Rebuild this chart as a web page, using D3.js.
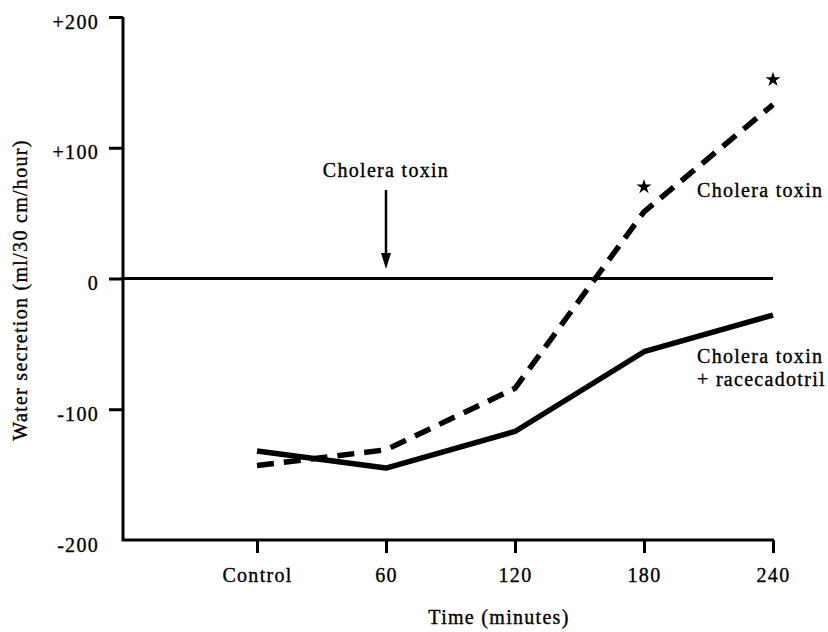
<!DOCTYPE html>
<html>
<head>
<meta charset="utf-8">
<script src="https://cdn.jsdelivr.net/npm/d3@7"></script>
<style>
  body { margin: 0; background: #fff; }
</style>
</head>
<body>
<div id="chart"></div>
<script>
// Data
var times = ["Control", "60", "120", "180", "240"];
var choleraToxin = [-143, -131, -84, 51, 133];
var withRacecadotril = [-132, -145, -117, -56, -28];
var significant = ["180", "240"];   // starred points on the cholera toxin curve
var yTicks = [200, 100, 0, -100, -200];

var svgWidth = 828;
var svgHeight = 632;

var svg = d3.select("#chart")
  .append("svg")
  .attr("width", svgWidth)
  .attr("height", svgHeight);

// Scales
var xScale = d3.scalePoint()
  .domain(times)
  .range([257, 773]);

var yScale = d3.scaleLinear()
  .domain([-200, 200])
  .range([540, 17]);

var axisLeftX = 123;
var axisRightX = 774;

// shared text look
function serif(sel) {
  sel.style("font-family", "'Liberation Serif', 'Times New Roman', serif")
    .style("font-size", "20px")
    .style("letter-spacing", "1.3px")
    .style("fill", "#000")
    .style("stroke", "#000")
    .style("stroke-width", "0.35px");
}

// Y axis
var leftAxis = d3.axisLeft(yScale)
  .tickValues(yTicks)
  .tickSize(14)
  .tickSizeOuter(0)
  .tickFormat(d => d > 0 ? "+" + d : String(d));

var yAxisG = svg.append("g")
  .attr("transform", `translate(${axisLeftX}, 0)`)
  .call(leftAxis);
yAxisG.select(".domain").remove();
yAxisG.selectAll(".tick line")
  .attr("stroke", "#000")
  .attr("stroke-width", 3)
  .attr("x2", d => d === -200 ? 0 : -14);
yAxisG.selectAll(".tick text")
  .attr("x", -24)
  .attr("dy", "0.55em")
  .call(serif);

// X axis
var bottomAxis = d3.axisBottom(xScale).tickSize(13).tickSizeOuter(0);
var xAxisG = svg.append("g")
  .attr("transform", `translate(0, ${yScale(-200)})`)
  .call(bottomAxis);
xAxisG.select(".domain").remove();
xAxisG.selectAll(".tick line")
  .attr("stroke", "#000")
  .attr("stroke-width", 3);
xAxisG.selectAll(".tick text")
  .attr("y", 42)
  .attr("dy", 0)
  .call(serif);

// Axis lines
svg.append("path")
  .attr("d", `M${axisLeftX},${yScale(200)}V${yScale(-200)}H${axisRightX}`)
  .attr("fill", "none")
  .attr("stroke", "#000")
  .attr("stroke-width", 3);

// Zero line
svg.append("line")
  .attr("x1", axisLeftX)
  .attr("x2", xScale("240"))
  .attr("y1", yScale(0))
  .attr("y2", yScale(0))
  .attr("stroke", "#000")
  .attr("stroke-width", 3);

// Lines
var line = d3.line()
  .x(d => xScale(d.t))
  .y(d => yScale(d.v));

var dashedData = times.map((t, i) => ({ t: t, v: choleraToxin[i] }));
var solidData = times.map((t, i) => ({ t: t, v: withRacecadotril[i] }));

svg.append("path")
  .datum(solidData)
  .attr("d", line)
  .attr("fill", "none")
  .attr("stroke", "#000")
  .attr("stroke-width", 5.5)
  .attr("stroke-linejoin", "round");

svg.append("path")
  .datum(dashedData)
  .attr("d", line)
  .attr("fill", "none")
  .attr("stroke", "#000")
  .attr("stroke-width", 5.5)
  .attr("stroke-dasharray", "17,10");

// Stars
svg.selectAll(".star")
  .data(dashedData.filter(d => significant.includes(d.t)))
  .enter()
  .append("path")
  .attr("class", "star")
  .attr("d", d3.symbol().type(d3.symbolStar).size(70))
  .attr("transform", d => `translate(${xScale(d.t)}, ${yScale(d.v) - 25})`)
  .attr("fill", "#000");

// Injection arrow
var arrowX = xScale("60");
svg.append("line")
  .attr("x1", arrowX).attr("x2", arrowX)
  .attr("y1", 190).attr("y2", 256)
  .attr("stroke", "#000")
  .attr("stroke-width", 2.5);
svg.append("path")
  .attr("d", `M${arrowX - 5},253L${arrowX + 5},253L${arrowX},269Z`)
  .attr("fill", "#000");

svg.append("text")
  .attr("x", arrowX)
  .attr("y", 177)
  .attr("text-anchor", "middle")
  .call(serif)
  .text("Cholera toxin");

// Series labels
svg.append("text")
  .attr("x", 697)
  .attr("y", 197)
  .call(serif)
  .text("Cholera toxin");

svg.append("text")
  .attr("x", 697)
  .attr("y", 363)
  .call(serif)
  .text("Cholera toxin");

svg.append("text")
  .attr("x", 697)
  .attr("y", 386)
  .call(serif)
  .text("+ racecadotril");

// Axis titles
svg.append("text")
  .attr("transform", "translate(27, 290) rotate(-90)")
  .attr("text-anchor", "middle")
  .call(serif)
  .text("Water secretion (ml/30 cm/hour)");

svg.append("text")
  .attr("x", 499)
  .attr("y", 624)
  .attr("text-anchor", "middle")
  .call(serif)
  .text("Time (minutes)");
</script>
</body>
</html>
